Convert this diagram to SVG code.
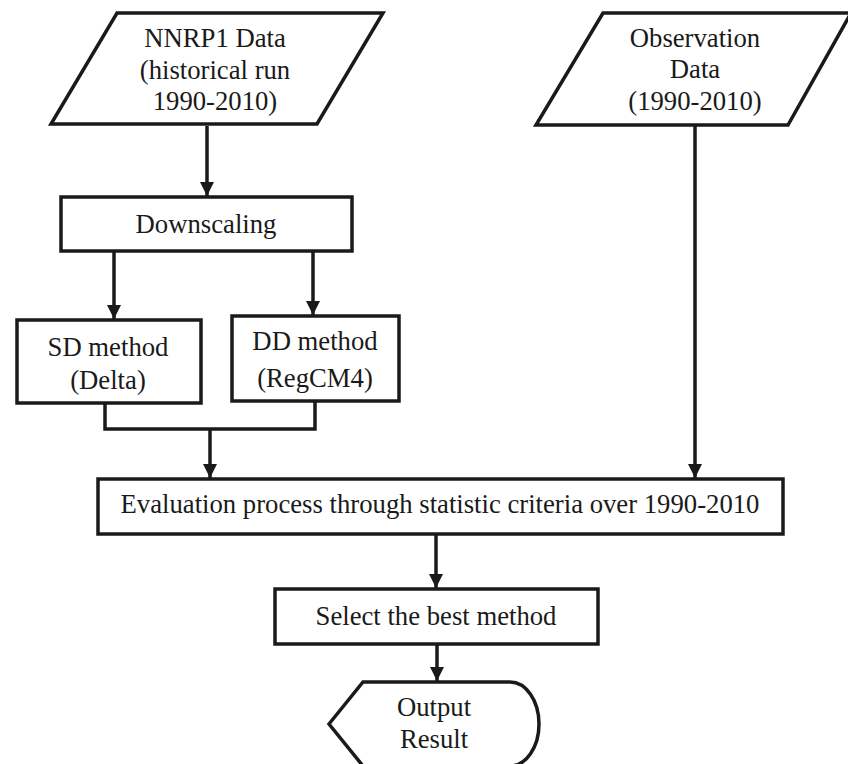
<svg xmlns="http://www.w3.org/2000/svg" width="848" height="764" viewBox="0 0 848 764">
<defs>
<style>
.s{fill:#fff;stroke:#1a1a1a;stroke-width:3.5;stroke-linejoin:miter}
.c{fill:none;stroke:#1a1a1a;stroke-width:3.5}
.t{font-family:"Liberation Serif","Times New Roman",serif;font-size:26.7px;fill:#1a1a1a;text-anchor:middle}
</style>
<marker id="ah" markerUnits="userSpaceOnUse" markerWidth="16" markerHeight="16" refX="14" refY="7" orient="auto">
<path d="M0,0 L14,7 L0,14 Z" fill="#1a1a1a"/>
</marker>
</defs>
<rect width="848" height="764" fill="#fff"/>
<g id="connectors">
<line class="c" x1="207" y1="126" x2="207" y2="196" marker-end="url(#ah)"/>
<line class="c" x1="114" y1="251" x2="114" y2="319" marker-end="url(#ah)"/>
<line class="c" x1="313" y1="251" x2="313" y2="315" marker-end="url(#ah)"/>
<polyline class="c" points="105,403 105,429 315,429 315,401"/>
<line class="c" x1="210" y1="429" x2="210" y2="478" marker-end="url(#ah)"/>
<line class="c" x1="695" y1="125" x2="695" y2="478" marker-end="url(#ah)"/>
<line class="c" x1="436" y1="534" x2="436" y2="588" marker-end="url(#ah)"/>
<line class="c" x1="437" y1="644" x2="437" y2="681" marker-end="url(#ah)"/>
</g>
<g id="nnrp1">
<polygon class="s" points="117,13 383,13 317,124 51,124"/>
<text class="t" x="215" y="47">NNRP1 Data</text>
<text class="t" x="215" y="79">(historical run</text>
<text class="t" x="215" y="110">1990-2010)</text>
</g>
<g id="observation">
<polygon class="s" points="603,13 851,13 788,125 536,125"/>
<text class="t" x="695" y="47">Observation</text>
<text class="t" x="695" y="78">Data</text>
<text class="t" x="695" y="110">(1990-2010)</text>
</g>
<g id="downscaling">
<rect class="s" x="61" y="197" width="291" height="54"/>
<text class="t" x="206" y="233">Downscaling</text>
</g>
<g id="sd">
<rect class="s" x="17" y="320" width="184" height="83"/>
<text class="t" x="108" y="356">SD method</text>
<text class="t" x="108" y="389">(Delta)</text>
</g>
<g id="dd">
<rect class="s" x="232" y="316" width="167" height="85"/>
<text class="t" x="315" y="350">DD method</text>
<text class="t" x="315" y="387">(RegCM4)</text>
</g>
<g id="evaluation">
<rect class="s" x="98" y="479" width="685" height="55"/>
<text class="t" x="440" y="513">Evaluation process through statistic criteria over 1990-2010</text>
</g>
<g id="select">
<rect class="s" x="275" y="589" width="323" height="55"/>
<text class="t" x="436" y="625">Select the best method</text>
</g>
<g id="output">
<path class="s" d="M329,724 L363,682 L510,682 A29,42 0 0 1 510,766 L363,766 Z"/>
<text class="t" x="434" y="716">Output</text>
<text class="t" x="434" y="748">Result</text>
</g>
</svg>
